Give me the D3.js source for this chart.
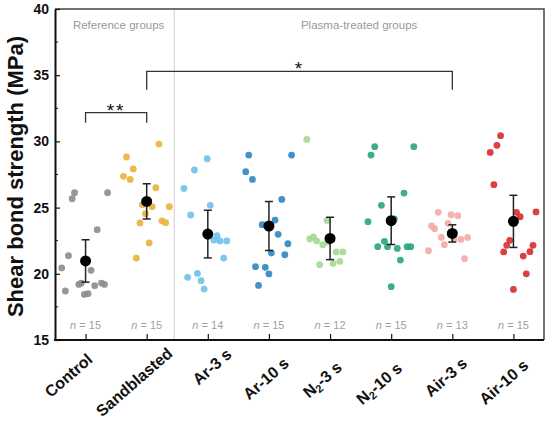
<!DOCTYPE html>
<html>
<head>
<meta charset="utf-8">
<script src="https://cdn.jsdelivr.net/npm/d3@7"></script>
<style>
  body { margin: 0; background: #fff; }
  text { font-family: "Liberation Sans", Arial, sans-serif; }
</style>
</head>
<body>
<svg id="chart"></svg>
<script>
// Groups and colours
const groups = ["Control", "Sandblasted", "Ar-3 s", "Ar-10 s", "N2-3 s", "N2-10 s", "Air-3 s", "Air-10 s"];
const colors = ["#8c8c8c", "#e9b13a", "#6fc0ea", "#2d86c0", "#a3d98f", "#26a57e", "#f5a9a9", "#d72b2f"];
const nLabels = [15, 15, 14, 15, 12, 15, 13, 15];

// Individual specimens (MPa)
const controlVals = [25.67, 26.12, 26.12, 23.33, 21.37, 20.44, 20.26, 18.70, 19.20, 19.30, 19.10, 19.30, 19.20, 18.44, 18.50];
const sandVals = [29.80, 28.82, 27.92, 27.36, 27.13, 26.50, 25.22, 25.07, 25.07, 24.54, 23.84, 24.00, 23.86, 22.33, 21.19];
const ar3Vals = [28.69, 27.84, 26.45, 25.17, 24.44, 22.88, 22.55, 22.48, 22.48, 21.19, 19.73, 20.03, 19.48, 18.85];
const ar10Vals = [28.97, 28.97, 27.71, 27.13, 25.62, 24.06, 23.71, 22.98, 22.27, 21.57, 21.44, 20.54, 20.49, 19.99, 19.12];
const n23Vals = [30.15, 24.03, 22.78, 22.63, 22.48, 22.20, 21.65, 21.65, 20.94, 20.79, 20.69, 22.40];
const n210Vals = [29.60, 29.60, 28.97, 26.10, 25.17, 23.94, 24.14, 22.45, 22.05, 22.05, 21.92, 22.05, 22.05, 21.04, 19.03];
const air3Vals = [24.64, 24.46, 24.39, 23.81, 23.61, 23.41, 22.75, 22.60, 22.75, 22.63, 22.20, 21.74, 21.14];
const air10Vals = [30.43, 29.70, 29.17, 26.73, 24.64, 24.31, 24.67, 22.53, 22.15, 21.65, 22.15, 21.67, 21.34, 20.00, 18.82];

// Horizontal scatter of each point, as a fraction of the group spacing
const controlJit = [-0.22, -0.18, 0.36, 0.19, -0.28, -0.39, 0.09, -0.33, -0.11, -0.07, 0.15, 0.26, 0.31, -0.02, 0.04];
const sandJit = [0.20, -0.33, -0.22, -0.38, -0.27, 0.15, -0.07, 0.09, 0.37, -0.02, -0.11, 0.25, 0.31, 0.04, -0.17];
const ar3Jit = [-0.01, -0.22, -0.39, 0.04, -0.28, 0.15, 0.10, 0.20, 0.31, 0.26, -0.33, -0.17, -0.11, -0.06];
const ar10Jit = [-0.33, 0.37, -0.38, -0.27, 0.21, 0.10, -0.11, 0.15, 0.31, 0.04, 0.26, -0.22, -0.06, 0.0, -0.17];
const n23Jit = [-0.38, -0.05, -0.27, -0.33, -0.22, -0.12, 0.10, 0.21, 0.16, 0.05, -0.17, -0.03];
const n210Jit = [-0.27, 0.37, -0.33, 0.21, -0.16, -0.38, 0.05, -0.11, -0.22, -0.06, 0.10, 0.26, 0.32, 0.15, 0.0];
const air3Jit = [-0.23, -0.02, 0.09, -0.07, -0.34, -0.29, -0.18, 0.14, 0.25, 0.03, -0.13, -0.39, 0.20];
const air10Jit = [-0.21, -0.27, -0.38, -0.32, 0.05, 0.11, 0.37, -0.06, -0.11, -0.16, 0.32, 0.27, 0.16, 0.21, 0.0];

// Group mean and SD
const means = [20.97, 25.47, 23.0, 23.61, 22.67, 24.01, 23.05, 23.96];
const sds = [1.6, 1.33, 1.8, 1.85, 1.6, 1.8, 0.65, 1.97];

const allVals = [controlVals, sandVals, ar3Vals, ar10Vals, n23Vals, n210Vals, air3Vals, air10Vals];
const allJit = [controlJit, sandJit, ar3Jit, ar10Jit, n23Jit, n210Jit, air3Jit, air10Jit];

// Significance brackets
const brackets = [
  {from: "Control", to: "Sandblasted", level: 32.17, legL: 31.4, legR: 31.4, label: "**"},
  {from: "Sandblasted", to: "Air-3 s", level: 35.29, legL: 33.9, legR: 33.9, label: "*", labelAt: "Ar-10 s", labelShift: 0.5}
];

const width = 550, height = 425;
const margin = {top: 9, right: 6, bottom: 85, left: 55};
// hand nudges for the rotated category labels (the original ones sit unevenly)
const labelNudge = [[-3, 8], [16, 2], [14, 3], [10, 12], [2, 16], [1, 17], [5, 12], [5, 14]];

const svg = d3.select("#chart").attr("width", width).attr("height", height);

const x = d3.scalePoint()
  .domain(groups)
  .range([margin.left, width - margin.right])
  .padding(0.5);
const step = x.step();

const y = d3.scaleLinear()
  .domain([15, 40])
  .range([height - margin.bottom, margin.top]);

// Separator between reference and plasma groups
const sepX = (x("Sandblasted") + x("Ar-3 s")) / 2 - 3;
svg.append("line")
  .attr("x1", sepX).attr("x2", sepX)
  .attr("y1", margin.top).attr("y2", height - margin.bottom)
  .attr("stroke", "#d0d0d0").attr("stroke-width", 1);

// Frame top + right
svg.append("path")
  .attr("d", `M${margin.left},${margin.top}H${width - margin.right}V${height - margin.bottom}`)
  .attr("fill", "none").attr("stroke", "#444").attr("stroke-width", 1.5);

// Axes
const yAxis = svg.append("g")
  .attr("transform", `translate(${margin.left},0)`)
  .call(d3.axisLeft(y).tickValues([15, 20, 25, 30, 35, 40]).tickSizeInner(-5).tickSizeOuter(0).tickPadding(6));
yAxis.select(".domain").attr("stroke", "#111").attr("stroke-width", 2);
yAxis.selectAll(".tick line").attr("stroke", "#111").attr("stroke-width", 1.2);
yAxis.selectAll(".tick text")
  .style("font-family", "'Liberation Sans', Arial, sans-serif")
  .style("font-size", "14px").style("font-weight", "bold").attr("fill", "#111");

// minor y ticks
svg.append("g")
  .selectAll("line")
  .data([17.5, 22.5, 27.5, 32.5, 37.5])
  .join("line")
  .attr("x1", margin.left).attr("x2", margin.left + 3)
  .attr("y1", d => y(d)).attr("y2", d => y(d))
  .attr("stroke", "#111").attr("stroke-width", 1);

const xAxis = svg.append("g")
  .attr("transform", `translate(0,${height - margin.bottom})`)
  .call(d3.axisBottom(x).tickSizeInner(-6).tickSizeOuter(0).tickFormat(""));
xAxis.select(".domain").attr("stroke", "#111").attr("stroke-width", 2)
  .attr("d", `M${margin.left - 1},0H${width - margin.right}`);
xAxis.selectAll(".tick line").attr("stroke", "#111").attr("stroke-width", 1.2);

// X labels, rotated
const xl = svg.append("g").selectAll("text")
  .data(groups)
  .join("text")
  .attr("transform", (d, i) => `translate(${x(d) + 11 + labelNudge[i][0]},${height - margin.bottom + 13 + labelNudge[i][1]}) rotate(-41)`)
  .attr("text-anchor", "end")
  .style("font-size", "16px").style("font-weight", "bold").attr("fill", "#111");
xl.each(function(d) {
  const t = d3.select(this);
  if (d.startsWith("N2")) {
    t.append("tspan").text("N");
    t.append("tspan").attr("baseline-shift", "-25%").style("font-size", "11px").text("2");
    t.append("tspan").text(d.slice(2));
  } else {
    t.text(d);
  }
});

// Y label
svg.append("text")
  .attr("transform", `translate(23,${(margin.top + height - margin.bottom) / 2 + 2}) rotate(-90)`)
  .attr("text-anchor", "middle")
  .style("font-size", "22px").style("font-weight", "bold").attr("fill", "#111")
  .text("Shear bond strength (MPa)");

// Section titles
svg.append("text")
  .attr("x", (margin.left + sepX) / 2 + 4).attr("y", 29)
  .attr("text-anchor", "middle")
  .style("font-size", "11.5px").attr("fill", "#999")
  .text("Reference groups");
svg.append("text")
  .attr("x", (sepX + width - margin.right) / 2).attr("y", 29)
  .attr("text-anchor", "middle")
  .style("font-size", "11.5px").attr("fill", "#999")
  .text("Plasma-treated groups");

// n labels
const nl = svg.append("g").selectAll("text")
  .data(groups)
  .join("text")
  .attr("x", (d) => x(d))
  .attr("y", height - margin.bottom - 11)
  .attr("text-anchor", "middle")
  .style("font-size", "11px").attr("fill", "#a0a0a0");
nl.append("tspan").style("font-style", "italic").text("n");
nl.append("tspan").text((d, i) => " = " + nLabels[i]);

// Points
groups.forEach((g, gi) => {
  svg.append("g")
    .selectAll("circle")
    .data(allVals[gi])
    .join("circle")
    .attr("cx", (d, i) => x(g) + allJit[gi][i] * step)
    .attr("cy", d => y(d))
    .attr("r", 3.4)
    .attr("fill", colors[gi])
    .attr("opacity", 0.9);
});

// Mean +/- SD
const stats = groups.map((g, i) => ({g, m: means[i], sd: sds[i]}));
const eb = svg.append("g").selectAll("g").data(stats).join("g");
eb.append("line")
  .attr("x1", d => x(d.g)).attr("x2", d => x(d.g))
  .attr("y1", d => y(d.m + d.sd)).attr("y2", d => y(d.m - d.sd))
  .attr("stroke", "#222").attr("stroke-width", 1.5);
eb.selectAll(".cap").data(d => [d.m + d.sd, d.m - d.sd].map(v => ({g: d.g, v})))
  .join("line")
  .attr("x1", d => x(d.g) - 4).attr("x2", d => x(d.g) + 4)
  .attr("y1", d => y(d.v)).attr("y2", d => y(d.v))
  .attr("stroke", "#222").attr("stroke-width", 1.5);
eb.append("circle")
  .attr("cx", d => x(d.g)).attr("cy", d => y(d.m))
  .attr("r", 5.5).attr("fill", "#000");

// Significance brackets
brackets.forEach(b => {
  const x1 = x(b.from), x2 = x(b.to);
  svg.append("path")
    .attr("d", `M${x1},${y(b.legL)}V${y(b.level)}H${x2}V${y(b.legR)}`)
    .attr("fill", "none").attr("stroke", "#333").attr("stroke-width", 1.3);
  const lx = b.labelAt ? x(b.labelAt) + b.labelShift * step : (x1 + x2) / 2;
  svg.append("text")
    .attr("x", lx).attr("y", y(b.level) + 4)
    .attr("text-anchor", "middle")
    .style("font-size", "19px").style("letter-spacing", "2px").attr("fill", "#111")
    .text(b.label);
});
</script>
</body>
</html>
